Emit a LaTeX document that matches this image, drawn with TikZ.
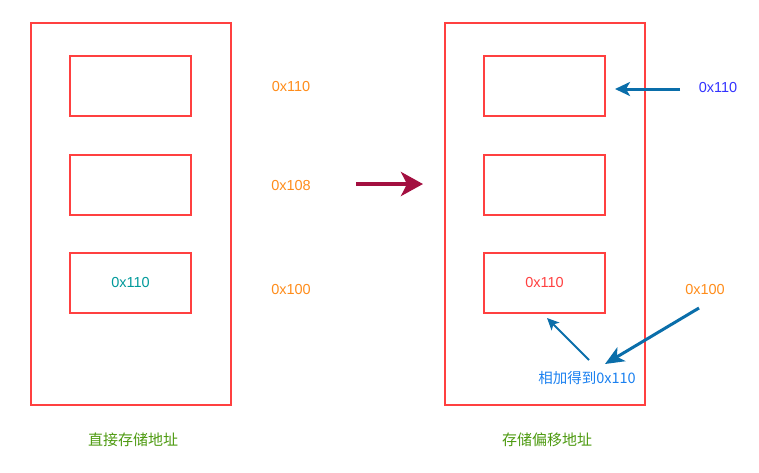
\documentclass[tikz,border=0pt]{standalone}
\usepackage{fontspec}
\setmainfont{Liberation Sans}
\newfontfamily\cjk{Noto Sans CJK SC}
\usetikzlibrary{arrows.meta}
\definecolor{boxred}{HTML}{FF4040}
\definecolor{addrorange}{HTML}{FF8C1A}
\definecolor{arrowblue}{HTML}{0A6EAA}
\definecolor{moveplum}{HTML}{A30F40}
\definecolor{capgreen}{HTML}{4D9A10}
\definecolor{sumblue}{HTML}{1A80F0}
\definecolor{tealtext}{HTML}{00999A}
\definecolor{ptrblue}{HTML}{3333FF}

\begin{document}
\begin{tikzpicture}[x=1pt, y=-1pt,
        mem/.style={draw=boxred, line width=2pt, minimum width=200pt, minimum height=382pt, inner sep=0pt},
        cell/.style={draw=boxred, line width=2pt, minimum width=121pt, minimum height=60pt, inner sep=0pt, font=\fontsize{14.5}{16}\selectfont},
        addr/.style={text=addrorange, font=\fontsize{14.5}{16}\selectfont},
        caption/.style={text=capgreen, font=\cjk\fontsize{15}{17}\selectfont}]
        \useasboundingbox (0,0) rectangle (759,472);
        
        % Direct storage: memory block and its cells
        \node[mem] (M1) at (131,214) {};
        \node[cell] (A1) at (130.5,86) {};
        \node[cell] (B1) at (130.5,185) {};
        \node[cell, text=tealtext] (C1) at (130.5,283) {0x110};
        
        % Addresses beside the cells
        \node[addr] (a110) at (291,87) {0x110};
        \node[addr] (a108) at (291,186) {0x108};
        \node[addr] (a100) at (291,289) {0x100};
        
        % Annotation for direct storage
        \node[caption] (cap1) at (133,440) {直接存储地址};
        
        % Transition arrow
        \coordinate (s) at (356,184);
        \coordinate (t) at (423,184);
        \draw[moveplum, line width=4pt, -{Stealth[length=22pt, width=24pt, inset=6pt]}] (s) -- (t);
        
        % Offset storage: memory block and its cells
        \node[mem] (M2) at (544.5,214) {};
        \node[cell] (A2) at (544.5,86) {};
        \node[cell] (B2) at (544.5,185) {};
        \node[cell, text=boxred] (C2) at (544.5,283) {0x110};
        
        % Base pointer and offset
        \node[text=ptrblue, font=\fontsize{14.5}{16}\selectfont] (p110) at (718,88) {0x110};
        \node[addr] (o100) at (705,289) {0x100};
        \node[text=sumblue, font=\cjk\fontsize{14.5}{16}\selectfont] (sum) at (587,378) {相加得到0x110};
        
        % End points of the connectors
        \coordinate (p0) at (680,89);
        \coordinate (p1) at (615,89);
        \coordinate (o0) at (699,308);
        \coordinate (o1) at (605,364);
        \coordinate (s0) at (589,360);
        \coordinate (s1) at (547,318);
        
        % Connectors
        \draw[arrowblue, line width=3pt, -{Stealth[length=15pt, width=14pt, inset=4pt]}] (p0) -- (p1);
        \draw[arrowblue, line width=3pt, -{Stealth[length=19pt, width=16pt, inset=5pt]}] (o0) -- (o1);
        \draw[arrowblue, line width=2pt, -{Stealth[length=12pt, width=11pt, inset=3pt]}] (s0) -- (s1);
        
        % Annotation for offset storage
        \node[caption] (cap2) at (547,440) {存储偏移地址};
\end{tikzpicture}
\end{document}
